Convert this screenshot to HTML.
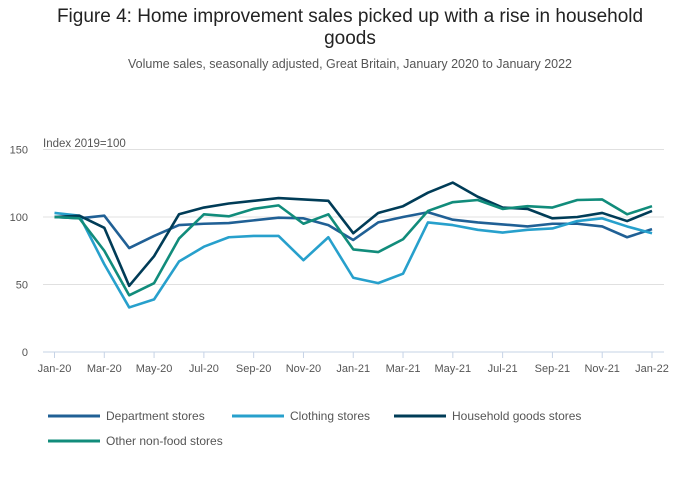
<!DOCTYPE html>
<html><head><meta charset="utf-8"><style>
body{margin:0;background:#fff;font-family:"Liberation Sans",sans-serif;}
#wrap{position:relative;width:700px;height:502px;overflow:hidden}
.t{position:absolute;left:0;width:700px;text-align:center;color:#222}
</style></head><body>
<div id="wrap">
<div class="t" style="top:6px;font-size:19px;line-height:22px">Figure 4: Home improvement sales picked up with a rise in household<br>goods</div>
<div class="t" style="top:57px;font-size:12.5px;color:#555">Volume sales, seasonally adjusted, Great Britain, January 2020 to January 2022</div>
<svg id="c" width="700" height="502" style="position:absolute;left:0;top:0"></svg>
</div>
<script>
const months=["Jan-20","Feb-20","Mar-20","Apr-20","May-20","Jun-20","Jul-20","Aug-20","Sep-20","Oct-20","Nov-20","Dec-20","Jan-21","Feb-21","Mar-21","Apr-21","May-21","Jun-21","Jul-21","Aug-21","Sep-21","Oct-21","Nov-21","Dec-21","Jan-22"];
const department=[100,99,101,77,86,94,95,95.5,97.5,99.5,99,94,83,96,100,103.5,98,96,94.5,93,95,95,93,85,91];
const clothing=[103,101,65,33,39,67,78,85,86,86,68,85,55,51,58,96,94,90.5,88.5,90.5,91.5,97,99,93,88];
const household=[100,101,92,49,71,102,107,110,112,114,113,112,88,103,108,118,125.5,115,107,106,99,100,103,97,104.5];
const otherNonFood=[100,99,75,42,51,84,102,100.5,106,108.6,95,102,76,74,83.5,104.5,111,112.6,106,108,107,112.6,113,102,108];
const yTicks=[0,50,100,150];
const xTickLabels=["Jan-20","Mar-20","May-20","Jul-20","Sep-20","Nov-20","Jan-21","Mar-21","May-21","Jul-21","Sep-21","Nov-21","Jan-22"];
const seriesNames=["Department stores","Clothing stores","Household goods stores","Other non-food stores"];
const colors=["#206095","#27a0cc","#003c57","#118c7b"];
const svg=document.getElementById('c');const NS="http://www.w3.org/2000/svg";
const X=i=>54.5+i*(652-54.5)/24;
const Y=v=>352-v*(202.5/150);
function mk(tag,attrs,parent){const e=document.createElementNS(NS,tag);for(const k in attrs)e.setAttribute(k,attrs[k]);(parent||svg).appendChild(e);return e;}
yTicks.forEach(v=>{
 const l=mk('line',{x1:43,x2:664,y1:Y(v),y2:Y(v),stroke:v===0?'#c6d3e6':'#e0e0e0','stroke-width':1});
 
 
 const t=mk('text',{x:28,y:Y(v)+4,'text-anchor':'end','font-size':11,fill:'#555'});t.textContent=v;
 
 
});
const yt=mk('text',{x:43,y:147,'font-size':11.5,fill:'#555'});yt.textContent="Index 2019=100";


xTickLabels.forEach(lbl=>{const i=months.indexOf(lbl);
 const tk=mk('line',{x1:X(i),x2:X(i),y1:352,y2:358,stroke:'#c6d3e6'});
 
 
 const t=mk('text',{x:X(i),y:372,'text-anchor':'middle','font-size':11,fill:'#555'});t.textContent=lbl;
 
 
});
[department,clothing,household,otherNonFood].forEach((d,s)=>{
 const p=mk('polyline',{points:d.map((v,i)=>X(i)+','+Y(v)).join(' '),fill:'none',stroke:colors[s],'stroke-width':2.6,'stroke-linejoin':'round'});
 
 
});
const lx=[48,232,394,48],ly=[416,416,416,441];
seriesNames.forEach((n,s)=>{
 const g=mk('g',{});
 
 
 mk('line',{x1:lx[s],x2:lx[s]+52,y1:ly[s],y2:ly[s],stroke:colors[s],'stroke-width':3},g);
 const t=mk('text',{x:lx[s]+58,y:ly[s]+4,'font-size':12,fill:'#555'},g);t.textContent=n;
});
</script>
</body></html>
